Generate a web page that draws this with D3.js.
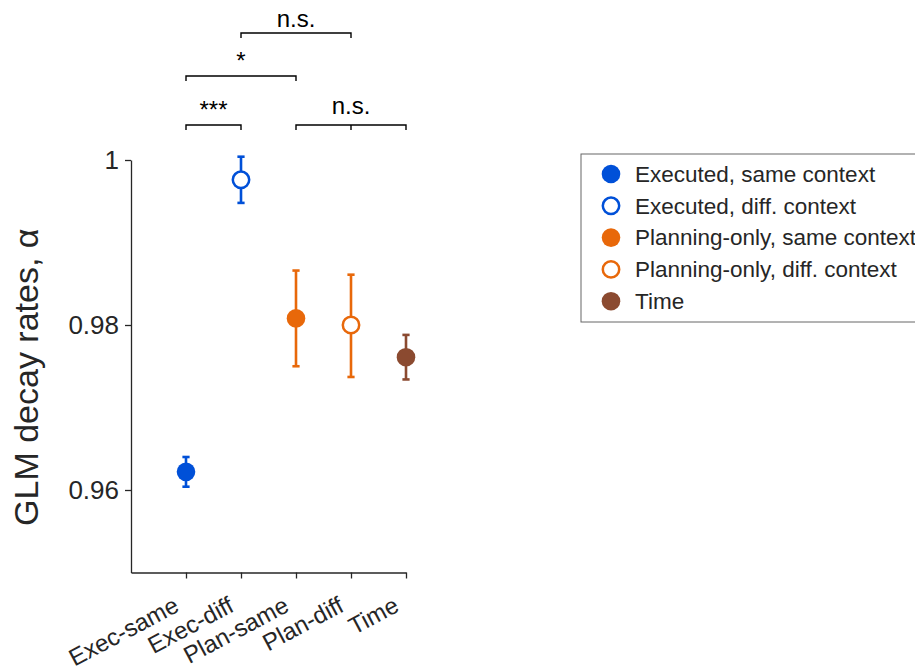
<!DOCTYPE html>
<html>
<head>
<meta charset="utf-8">
<script src="https://cdn.jsdelivr.net/npm/d3@7"></script>
<style>
  html, body { margin: 0; padding: 0; background: #fff; }
  svg { display: block; font-family: "Liberation Sans", Arial, Helvetica, sans-serif; }
</style>
</head>
<body>
<svg id="chart" width="915" height="672"></svg>
<script>
// Conditions and their GLM decay-rate estimates (mean with error bar bounds)
const categories = ["Exec-same", "Exec-diff", "Plan-same", "Plan-diff", "Time"];
const legendLabels = [
  "Executed, same context",
  "Executed, diff. context",
  "Planning-only, same context",
  "Planning-only, diff. context",
  "Time"
];
const meanValues  = [0.9622, 0.9976, 0.9808, 0.9800, 0.9761];
const lowerValues = [0.9604, 0.9948, 0.9750, 0.9737, 0.9734];
const upperValues = [0.9640, 1.0004, 0.9866, 0.9861, 0.9788];
const filled      = [true, false, true, false, true];
const colors      = ["#0050d8", "#0050d8", "#e8680a", "#e8680a", "#8b4a30"];
const yTickValues = [0.96, 0.98, 1];

// Pairwise comparisons: spanned categories (indices), label, stacking level
const sigIndices = [[0, 1], [0, 2], [1, 3], [2, 3, 4]];
const sigLabels  = ["***", "*", "n.s.", "n.s."];
const sigLevels  = [0, 1, 2, 0];

const svg = d3.select("#chart");
const ink = "#262626";

const x = d3.scaleLinear().domain([0, categories.length]).range([131, 406]);
const y = d3.scaleLinear().domain([0.95, 1]).range([572.5, 160]);
const levelY = d3.scaleLinear().domain([0, 1, 2]).range([125, 76, 33]);

// Y axis
const yAxis = svg.append("g")
  .attr("transform", `translate(${x(0)},0)`)
  .call(d3.axisLeft(y)
    .tickValues(yTickValues)
    .tickFormat(d => d === 1 ? "1" : d3.format(".2f")(d))
    .tickSize(6).tickSizeOuter(0).tickPadding(6));
yAxis.select(".domain").attr("stroke", ink).attr("stroke-width", 1.3);
yAxis.selectAll(".tick line").attr("stroke", ink).attr("stroke-width", 1.3);
yAxis.selectAll(".tick text").attr("fill", ink).style("font-size", "26px");

// X axis with slanted category labels
const xAxis = svg.append("g")
  .attr("transform", `translate(0,${y(0.95)})`)
  .call(d3.axisBottom(x)
    .tickValues(d3.range(1, categories.length + 1))
    .tickFormat(d => categories[d - 1])
    .tickSize(6).tickSizeOuter(0));
xAxis.select(".domain").attr("stroke", ink).attr("stroke-width", 1.3);
xAxis.selectAll(".tick line").attr("stroke", ink).attr("stroke-width", 1.3);
xAxis.selectAll(".tick text")
  .attr("fill", ink)
  .style("font-size", "24px")
  .attr("text-anchor", "end")
  .attr("x", 0).attr("y", 0).attr("dy", 0)
  .attr("transform", "translate(-6,38) rotate(-28)");

// Y axis title
svg.append("text")
  .attr("transform", `translate(38,${(y(0.95) + y(1)) / 2 + 11}) rotate(-90)`)
  .attr("text-anchor", "middle")
  .attr("fill", ink)
  .style("font-size", "34px")
  .text("GLM decay rates, \u03b1");

// Error bars and markers
const pts = svg.append("g").selectAll("g")
  .data(categories.map((c, i) => ({ i, c })))
  .join("g")
  .attr("transform", d => `translate(${x(d.i + 1)},0)`);

pts.append("line")
  .attr("y1", d => y(lowerValues[d.i])).attr("y2", d => y(upperValues[d.i]))
  .attr("stroke", d => colors[d.i]).attr("stroke-width", 2.6);
pts.selectAll("line.cap")
  .data(d => [lowerValues[d.i], upperValues[d.i]].map(v => ({ v, i: d.i })))
  .join("line").attr("class", "cap")
  .attr("x1", -3.6).attr("x2", 3.6)
  .attr("y1", e => y(e.v)).attr("y2", e => y(e.v))
  .attr("stroke", e => colors[e.i]).attr("stroke-width", 2.6);
pts.append("circle")
  .attr("cy", d => y(meanValues[d.i]))
  .attr("r", d => filled[d.i] ? 9.3 : 8.2)
  .attr("fill", d => filled[d.i] ? colors[d.i] : "#fff")
  .attr("stroke", d => filled[d.i] ? "none" : colors[d.i])
  .attr("stroke-width", 2.5);

// Significance brackets
const sig = svg.append("g").selectAll("g")
  .data(sigIndices.map((idx, k) => ({ idx, label: sigLabels[k], level: sigLevels[k] })))
  .join("g");
sig.append("path")
  .attr("fill", "none").attr("stroke", "#000").attr("stroke-width", 1.4)
  .attr("d", d => {
    const yy = levelY(d.level);
    const xs = d.idx.map(i => x(i + 1));
    let p = `M${xs[0]},${yy + 5}V${yy}H${xs[xs.length - 1]}V${yy + 5}`;
    xs.slice(1, -1).forEach(xm => { p += `M${xm},${yy}V${yy + 5}`; });
    return p;
  });
sig.append("text")
  .attr("x", d => (x(d.idx[0] + 1) + x(d.idx[d.idx.length - 1] + 1)) / 2)
  .attr("y", d => levelY(d.level) - (d.label === "n.s." ? (d.level === 2 ? 6 : 11) : 7))
  .attr("text-anchor", "middle")
  .attr("fill", "#000")
  .style("font-size", "24px")
  .text(d => d.label);

// Legend
const legend = svg.append("g");
legend.append("rect")
  .attr("x", 581).attr("y", 154).attr("width", 400).attr("height", 168)
  .attr("fill", "#fff").attr("stroke", "#666").attr("stroke-width", 1);
const rows = legend.selectAll("g.row")
  .data(legendLabels.map((t, i) => ({ t, i })))
  .join("g").attr("class", "row")
  .attr("transform", d => `translate(0,${174 + d.i * 31.8})`);
rows.append("circle")
  .attr("cx", 611)
  .attr("r", d => filled[d.i] ? 9.3 : 8.2)
  .attr("fill", d => filled[d.i] ? colors[d.i] : "#fff")
  .attr("stroke", d => filled[d.i] ? "none" : colors[d.i])
  .attr("stroke-width", 2.5);
rows.append("text")
  .attr("x", 635).attr("dy", "0.35em")
  .attr("fill", ink)
  .style("font-size", "22.5px")
  .text(d => d.t);
</script>
</body>
</html>
